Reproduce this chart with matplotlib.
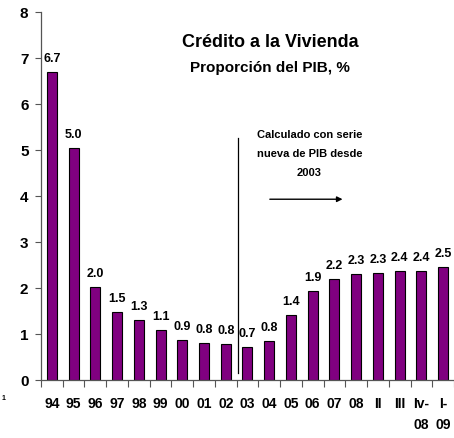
import matplotlib
matplotlib.use("Agg")
import matplotlib.pyplot as plt
import numpy as np

# data
periods = ["94", "95", "96", "97", "98", "99", "00", "01", "02", "03",
           "04", "05", "06", "07", "08", "II", "III", "Iv-\n08", "I-\n09"]
credit_pct_gdp = [6.70, 5.04, 2.03, 1.48, 1.30, 1.09, 0.87, 0.81, 0.78, 0.72,
                  0.84, 1.42, 1.94, 2.20, 2.30, 2.33, 2.38, 2.38, 2.46]
y_ticks = [0, 1, 2, 3, 4, 5, 6, 7, 8]

plt.rcParams['font.family'] = ['Liberation Sans', 'DejaVu Sans']
plt.rcParams['font.weight'] = 'bold'

fig = plt.figure(figsize=(4.54, 4.38), dpi=100)
ax = fig.add_axes([0.0903, 0.1324, 0.9097, 0.8402])

x = np.arange(len(periods))
ax.bar(x, credit_pct_gdp, width=0.46, color='#800080', edgecolor='black', linewidth=0.8)

for xi, v in zip(x, credit_pct_gdp):
    ax.annotate(f"{v:.1f}", (xi, v), xytext=(0, 5), textcoords='offset points',
                ha='center', va='bottom', fontsize=9, fontweight='bold')

ax.set_xlim(-0.5, len(periods) - 0.5)
ax.set_ylim(0, 8)

# major ticks on category boundaries, labels on centers
ax.set_xticks(np.arange(len(periods) + 1) - 0.5)
ax.set_xticklabels([])
ax.set_xticks(x, minor=True)
ax.set_xticklabels(periods, minor=True, fontsize=10, fontweight='bold', linespacing=1.7)
ax.tick_params(axis='x', which='minor', length=0, pad=12)
ax.tick_params(axis='x', which='major', length=5, direction='out', color='#555555')

ax.set_yticks(y_ticks)
ax.set_yticklabels([str(t) for t in y_ticks], fontsize=11, fontweight='bold')
ax.tick_params(axis='y', length=4, direction='out', color='#555555', pad=5)

for s in ['top', 'right']:
    ax.spines[s].set_visible(False)
for s in ['left', 'bottom']:
    ax.spines[s].set_color('#555555')
    ax.spines[s].set_linewidth(0.9)

# break line for new GDP series
ax.plot([8.57, 8.57], [0.15, 5.27], color='black', linewidth=0.9)
ax.text(11.85, 5.43, "Calculado con serie\nnueva de PIB desde\n2003", ha='center', va='top',
        fontsize=8, fontweight='bold', linespacing=2.1)
ax.annotate("", xy=(13.5, 3.93), xytext=(9.9, 3.93),
            arrowprops=dict(arrowstyle='-|>', color='black', lw=1, mutation_scale=8))

fig.text(0.595, 0.902, "Crédito a la Vivienda", ha='center', va='center',
         fontsize=13, fontweight='bold')
fig.text(0.595, 0.845, "Proporción del PIB, %", ha='center', va='center',
         fontsize=11, fontweight='bold')
fig.text(0.003, 0.087, "1", fontsize=5)

fig.savefig("out.png", dpi=100)
